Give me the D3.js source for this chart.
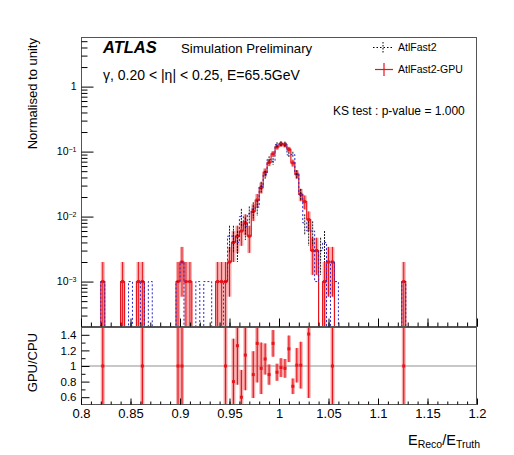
<!DOCTYPE html>
<html>
<head>
<meta charset="utf-8">
<script src="https://cdn.jsdelivr.net/npm/d3@7"></script>
<style>
body { margin: 0; background: #fff; }
text { font-family: "Liberation Sans", Arial, Helvetica, sans-serif; }
</style>
</head>
<body>
<div class="content"></div>
<script>
// binning of both histograms
var xMin = 0.8, xMax = 1.2, nBins = 100;
var nEvents = 1000;

// AtlFast2-GPU entries: bin index -> entries
var gpuBins   = [5,10,14,15,24,25,26,27,34,35,36,37,38,39,40,41,42,43,44,45,46,47,48,49,50,51,52,53,54,55,56,57,58,59,61,62,63,81];
var gpuCounts = [1,1,1,1,1,2,1,1,1,1,1,2,4,5,6,8,5,12,18,28,48,68,92,118,130,127,108,67,45,22,17,9,3,3,1,2,2,1];

// AtlFast2 (CPU) entries
var cpuBins   = [5,12,15,17,24,25,29,31,32,36,37,38,39,40,41,42,43,44,45,46,47,48,49,50,51,52,53,54,55,56,57,58,59,60,61,63,64,81];
var cpuCounts = [1,1,1,1,1,2,1,1,1,1,5,5,4,10,7,11,13,14,29,44,76,71,128,133,131,89,90,45,22,8,6,6,1,3,4,2,1,1];

// GPU/CPU ratio
var ratioBins = [5,15,24,25,36,38,39,40,41,43,44,45,46,47,48,49,50,51,52,53,54,55,57,63,81];
var ratioVals = [1,1,1,1,1,0.80,1.26,0.60,1.14,0.89,1.29,0.97,1.09,0.89,1.29,0.92,0.98,0.97,1.22,0.74,1.01,1.01,1.41,1,1];
var ratioErrs = [1.41,1.41,1.41,1.0,1.41,0.55,0.5,0.35,0.45,0.3,0.5,0.33,0.2,0.13,0.17,0.11,0.12,0.12,0.17,0.1,0.22,0.3,0.82,1.0,1.41];

var xTicks = [0.8,0.85,0.9,0.95,1,1.05,1.1,1.15,1.2];
var yTicksTop = [1e-3,1e-2,1e-1,1];
var yTicksRatio = [0.6,0.8,1,1.2,1.4];

// layout
var W = 514, H = 455;
var left = 81, right = 477;
var top1 = 37, bot1 = 327, bot2 = 405;

var svg = d3.select(".content")
    .append("svg")
    .attr("width", W)
    .attr("height", H);

var x = d3.scaleLinear().domain([xMin, xMax]).range([left, right]);
var y = d3.scaleLog().domain([2e-4, 5.8]).range([bot1, top1]);
var yr = d3.scaleLinear().domain([0.5, 1.5]).range([bot2, bot1]);
var bw = (xMax - xMin) / nBins;

var red = "#e8141c", pink = "rgba(236,70,70,0.45)", blue = "#2a2ad0";

function hist(bins, counts) {
    var h = [];
    for (var i = 0; i < nBins; ++i) h.push({k: i, n: 0});
    bins.forEach(function(b, i) { h[b].n = counts[i]; });
    h.forEach(function(d) {
        d.lo = xMin + d.k * bw;
        d.hi = d.lo + bw;
        d.v = d.n / nEvents;
        d.e = Math.sqrt(d.n) / nEvents;
    });
    return h;
}
var gpu = hist(gpuBins, gpuCounts);
var cpu = hist(cpuBins, cpuCounts);

function yv(v) { return v > 0 ? Math.min(y(v), bot1) : bot1; }

function stepPath(h) {
    var p = d3.path();
    p.moveTo(x(h[0].lo), bot1);
    h.forEach(function(d) {
        p.lineTo(x(d.lo), yv(d.v));
        p.lineTo(x(d.hi), yv(d.v));
    });
    p.lineTo(x(xMax), bot1);
    return p.toString();
}

svg.append("clipPath").attr("id", "c1")
    .append("rect").attr("x", left).attr("y", top1).attr("width", right - left).attr("height", bot1 - top1);
svg.append("clipPath").attr("id", "c2")
    .append("rect").attr("x", left).attr("y", bot1).attr("width", right - left).attr("height", bot2 - bot1);

var g1 = svg.append("g").attr("clip-path", "url(#c1)");

// GPU error boxes
g1.selectAll(".box")
    .data(gpu.filter(function(d) { return d.n > 0; }))
    .enter().append("rect")
    .attr("x", function(d) { return x(d.lo); })
    .attr("width", function(d) { return x(d.hi) - x(d.lo); })
    .attr("y", function(d) { return y(d.v + d.e); })
    .attr("height", function(d) { return yv(d.v - d.e) - y(d.v + d.e); })
    .attr("fill", pink);

// GPU histogram line
g1.append("path")
    .attr("d", stepPath(gpu))
    .attr("fill", "none")
    .attr("stroke", red)
    .attr("stroke-width", 1.2);

g1.selectAll(".gerr")
    .data(gpu.filter(function(d) { return d.n > 0; }))
    .enter().append("line")
    .attr("x1", function(d) { return x(d.lo + bw / 2); })
    .attr("x2", function(d) { return x(d.lo + bw / 2); })
    .attr("y1", function(d) { return y(d.v + d.e); })
    .attr("y2", function(d) { return yv(d.v - d.e); })
    .attr("stroke", red)
    .attr("stroke-width", 1);

g1.selectAll(".gmk")
    .data(gpu.filter(function(d) { return d.n > 0; }))
    .enter().append("rect")
    .attr("x", function(d) { return x(d.lo + bw / 2) - 1.5; })
    .attr("y", function(d) { return y(d.v) - 1.5; })
    .attr("width", 3).attr("height", 3)
    .attr("fill", red);

// CPU histogram, blue dotted
g1.append("path")
    .attr("d", stepPath(cpu))
    .attr("fill", "none")
    .attr("stroke", blue)
    .attr("stroke-width", 1)
    .attr("stroke-dasharray", "2,2");

// CPU error bars, dotted black
g1.selectAll(".cerr")
    .data(cpu.filter(function(d) { return d.n > 2; }))
    .enter().append("line")
    .attr("x1", function(d) { return x(d.lo + bw / 2); })
    .attr("x2", function(d) { return x(d.lo + bw / 2); })
    .attr("y1", function(d) { return y(d.v + d.e); })
    .attr("y2", function(d) { return yv(d.v - d.e); })
    .attr("stroke", "#000")
    .attr("stroke-width", 0.9)
    .attr("stroke-dasharray", "2,1");

// ratio panel
var g2 = svg.append("g").attr("clip-path", "url(#c2)");

g2.append("line")
    .attr("x1", left).attr("x2", right)
    .attr("y1", yr(1)).attr("y2", yr(1))
    .attr("stroke", "#c8c8c8")
    .attr("stroke-width", 2);

var ratio = ratioBins.map(function(b, i) {
    return {c: xMin + (b + 0.5) * bw, v: ratioVals[i], e: ratioErrs[i]};
});

g2.selectAll(".rbox")
    .data(ratio)
    .enter().append("rect")
    .attr("x", function(d) { return x(d.c - bw / 2); })
    .attr("width", x(xMin + bw) - x(xMin))
    .attr("y", function(d) { return yr(d.v + d.e); })
    .attr("height", function(d) { return yr(d.v - d.e) - yr(d.v + d.e); })
    .attr("fill", pink);

g2.selectAll(".rerr")
    .data(ratio)
    .enter().append("line")
    .attr("x1", function(d) { return x(d.c); })
    .attr("x2", function(d) { return x(d.c); })
    .attr("y1", function(d) { return yr(d.v + d.e); })
    .attr("y2", function(d) { return yr(d.v - d.e); })
    .attr("stroke", red)
    .attr("stroke-width", 1.2);

g2.selectAll(".rmk")
    .data(ratio)
    .enter().append("rect")
    .attr("x", function(d) { return x(d.c) - 1.5; })
    .attr("y", function(d) { return yr(d.v) - 1.5; })
    .attr("width", 3).attr("height", 3)
    .attr("fill", red);

// frames
[[top1, bot1], [bot1, bot2]].forEach(function(f) {
    svg.append("rect")
        .attr("x", left + 0.5).attr("y", f[0] + 0.5)
        .attr("width", right - left - 1).attr("height", f[1] - f[0] - 1)
        .attr("fill", "none")
        .attr("stroke", "#555")
        .attr("stroke-width", 1);
});

// axes
function minorTicks(lo, hi, step) {
    var t = [];
    for (var v = lo; v <= hi + 1e-9; v += step) t.push(+v.toFixed(4));
    return t;
}

function styleAxis(sel) {
    sel.select(".domain").remove();
    sel.selectAll("line").attr("stroke", "#000");
    sel.selectAll("text").attr("fill", "#000");
}

// x ticks, top panel (no labels)
svg.append("g").attr("transform", "translate(0," + (bot1 - 0.5) + ")")
    .call(d3.axisBottom(x).tickValues(minorTicks(0.8, 1.2, 0.01)).tickSize(-4).tickFormat(""))
    .call(styleAxis);
svg.append("g").attr("transform", "translate(0," + (bot1 - 0.5) + ")")
    .call(d3.axisBottom(x).tickValues(xTicks).tickSize(-8).tickFormat(""))
    .call(styleAxis);

// x ticks, ratio panel
svg.append("g").attr("transform", "translate(0," + (bot2 - 0.5) + ")")
    .call(d3.axisBottom(x).tickValues(minorTicks(0.8, 1.2, 0.01)).tickSize(-3).tickFormat(""))
    .call(styleAxis);
svg.append("g").attr("transform", "translate(0," + (bot2 - 0.5) + ")")
    .call(d3.axisBottom(x).tickValues(xTicks).tickSize(-6).tickPadding(4)
        .tickFormat(function(d) { return d3.format("")(+d.toFixed(2)); }))
    .call(styleAxis)
    .selectAll("text").attr("font-size", "13px");

// y ticks, top panel
var logMinor = [];
[1e-4, 1e-3, 1e-2, 1e-1, 1].forEach(function(dec) {
    for (var m = 2; m <= 9; ++m) if (m * dec > 2e-4 && m * dec < 5.8) logMinor.push(m * dec);
});
svg.append("g").attr("transform", "translate(" + (left + 0.5) + ",0)")
    .call(d3.axisLeft(y).tickValues(logMinor).tickSize(-6).tickFormat(""))
    .call(styleAxis);
var yAx = svg.append("g").attr("transform", "translate(" + (left + 0.5) + ",0)")
    .call(d3.axisLeft(y).tickValues(yTicksTop).tickSize(-12).tickPadding(5).tickFormat(""))
    .call(styleAxis);
yAx.selectAll(".tick text")
    .attr("font-size", "10.5px")
    .each(function(d) {
        var t = d3.select(this);
        var p = Math.round(Math.log10(d));
        if (p === 0) { t.text("1"); return; }
        t.append("tspan").text("10");
        t.append("tspan").attr("dy", "-0.45em").attr("font-size", "7px").text("\u2212" + (-p));
    });

// y ticks, ratio panel
svg.append("g").attr("transform", "translate(" + (left + 0.5) + ",0)")
    .call(d3.axisLeft(yr).tickValues([0.7, 0.9, 1.1, 1.3]).tickSize(-4).tickFormat(""))
    .call(styleAxis);
svg.append("g").attr("transform", "translate(" + (left + 0.5) + ",0)")
    .call(d3.axisLeft(yr).tickValues(yTicksRatio).tickSize(-8).tickPadding(5)
        .tickFormat(function(d) { return d3.format("")(+d.toFixed(1)); }))
    .call(styleAxis)
    .selectAll("text").attr("font-size", "11.5px");

// titles
svg.append("text")
    .attr("transform", "translate(37," + (top1 + 1) + ") rotate(-90)")
    .attr("text-anchor", "end")
    .attr("font-size", "13px")
    .text("Normalised to unity");

svg.append("text")
    .attr("transform", "translate(37,333) rotate(-90)")
    .attr("text-anchor", "end")
    .attr("font-size", "13px")
    .text("GPU/CPU");

var xt = svg.append("text")
    .attr("x", 480).attr("y", 445)
    .attr("text-anchor", "end")
    .attr("font-size", "14.5px");
xt.append("tspan").text("E");
xt.append("tspan").attr("font-size", "10.5px").attr("dy", 3).text("Reco");
xt.append("tspan").attr("dy", -3).text("/E");
xt.append("tspan").attr("font-size", "10.5px").attr("dy", 3).text("Truth");

// labels
svg.append("text")
    .attr("x", 103).attr("y", 53)
    .attr("font-size", "16.5px")
    .attr("font-weight", "bold")
    .attr("font-style", "italic")
    .text("ATLAS");
svg.append("text")
    .attr("x", 181).attr("y", 53)
    .attr("font-size", "13.2px")
    .text("Simulation Preliminary");
svg.append("text")
    .attr("x", 103).attr("y", 80)
    .attr("font-size", "14px")
    .text("\u03b3, 0.20 < |\u03b7| < 0.25, E=65.5GeV");
svg.append("text")
    .attr("x", 333).attr("y", 115)
    .attr("font-size", "12px")
    .text("KS test : p-value = 1.000");

// legend
var lg = svg.append("g");
lg.append("line").attr("x1", 373).attr("x2", 393).attr("y1", 47.5).attr("y2", 47.5)
    .attr("stroke", "#000").attr("stroke-dasharray", "1.5,2");
lg.append("line").attr("x1", 383).attr("x2", 383).attr("y1", 42).attr("y2", 53)
    .attr("stroke", "#000").attr("stroke-dasharray", "1.5,1.5");
lg.append("line").attr("x1", 375).attr("x2", 393).attr("y1", 69.5).attr("y2", 69.5)
    .attr("stroke", red).attr("stroke-width", 1.2);
lg.append("line").attr("x1", 384).attr("x2", 384).attr("y1", 63).attr("y2", 76)
    .attr("stroke", red).attr("stroke-width", 1.2);
lg.append("text").attr("x", 398).attr("y", 51).attr("font-size", "10.5px").text("AtlFast2");
lg.append("text").attr("x", 398).attr("y", 73).attr("font-size", "10.5px").text("AtlFast2-GPU");
</script>
</body>
</html>
